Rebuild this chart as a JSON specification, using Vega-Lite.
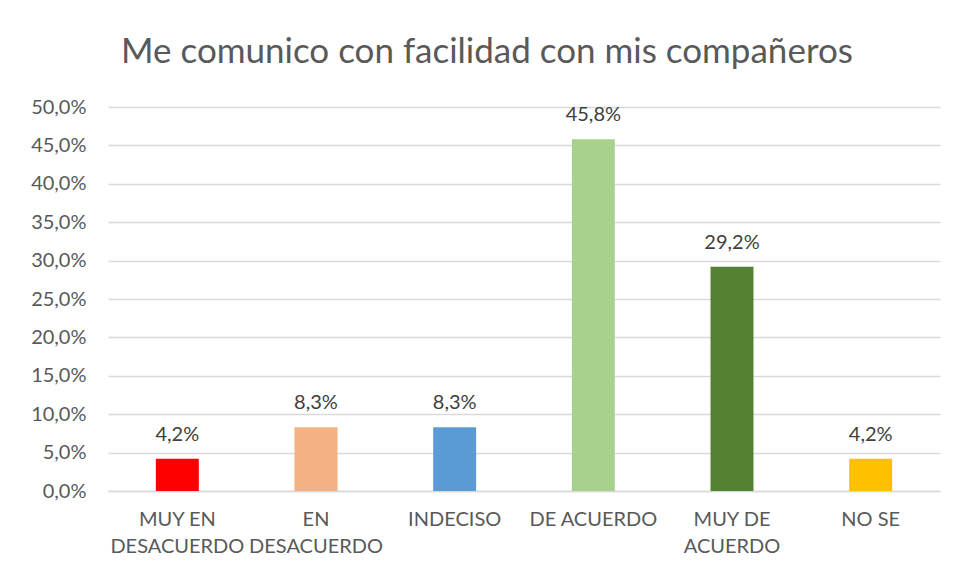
{
  "$schema": "https://vega.github.io/schema/vega-lite/v6.json",
  "width": 832,
  "height": 384,
  "autosize": {"type": "none"},
  "padding": {"left": 108, "top": 107, "right": 17, "bottom": 86},
  "background": "white",
  "config": {
    "locale": {"number": {"decimal": ",", "thousands": ".", "grouping": [3], "currency": ["", " €"]}},
    "view": {"stroke": null},
    "font": "Lato"
  },
  "title": {
    "text": "Me comunico con facilidad con mis compañeros",
    "font": "Lato",
    "fontSize": 35,
    "fontWeight": "normal",
    "color": "#595959",
    "anchor": "middle",
    "dx": -37,
    "offset": 27
  },
  "data": {
    "values": [
      {"cat": "MUY EN|DESACUERDO", "value": 0.042, "color": "#FF0000"},
      {"cat": "EN|DESACUERDO", "value": 0.083, "color": "#F4B183"},
      {"cat": "INDECISO", "value": 0.083, "color": "#5B9BD5"},
      {"cat": "DE ACUERDO", "value": 0.458, "color": "#A9D18E"},
      {"cat": "MUY DE|ACUERDO", "value": 0.292, "color": "#548235"},
      {"cat": "NO SE", "value": 0.042, "color": "#FFC000"}
    ]
  },
  "encoding": {
    "x": {
      "field": "cat",
      "type": "nominal",
      "sort": null,
      "scale": {"paddingInner": 0.69, "paddingOuter": 0.345},
      "axis": {
        "title": null,
        "labelAngle": 0,
        "labelExpr": "split(datum.label, '|')",
        "labelFont": "Lato",
        "labelFontSize": 20,
        "labelColor": "#595959",
        "labelLineHeight": 27,
        "labelPadding": 18,
        "labelBaseline": "top",
        "ticks": false,
        "domainColor": "#D9D9D9",
        "domainWidth": 1.5,
        "labelLimit": 300
      }
    },
    "y": {
      "field": "value",
      "type": "quantitative",
      "scale": {"domain": [0, 0.5], "nice": false},
      "axis": {
        "title": null,
        "format": ".1%",
        "values": [0, 0.05, 0.1, 0.15, 0.2, 0.25, 0.3, 0.35, 0.4, 0.45, 0.5],
        "labelFont": "Lato",
        "labelFontSize": 20,
        "labelColor": "#595959",
        "labelPadding": 22,
        "ticks": false,
        "domain": false,
        "gridColor": "#D9D9D9",
        "gridWidth": 1.5
      }
    }
  },
  "layer": [
    {
      "mark": {"type": "bar"},
      "encoding": {
        "color": {"field": "color", "type": "nominal", "scale": null}
      }
    },
    {
      "mark": {"type": "text", "dy": -24, "font": "Lato", "fontSize": 20, "color": "#404040"},
      "encoding": {
        "text": {"field": "value", "type": "quantitative", "format": ".1%"}
      }
    }
  ]
}
